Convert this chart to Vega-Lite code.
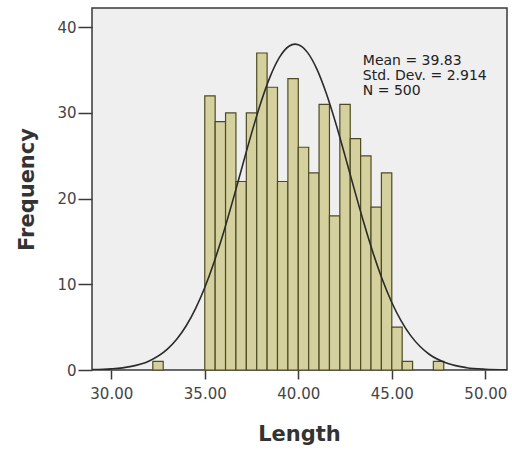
{
  "$schema": "https://vega.github.io/schema/vega-lite/v6.json",
  "width": 415,
  "height": 362,
  "autosize": {"type": "none"},
  "padding": {"left": 92, "top": 8, "right": 5, "bottom": 81},
  "background": "white",
  "config": {
    "view": {"fill": "#efefef", "stroke": "#3a3a3a", "strokeWidth": 1.5},
    "font": "DejaVu Sans",
    "axis": {
      "grid": false,
      "domain": false,
      "labelFont": "DejaVu Sans",
      "labelFontSize": 15,
      "labelColor": "#444444",
      "tickColor": "#3a3a3a",
      "tickWidth": 1.5,
      "titleFont": "DejaVu Sans",
      "titleFontSize": 21,
      "titleFontWeight": "bold",
      "titleColor": "#333333"
    }
  },
  "datasets": {
    "bins": [
      {"start": 32.2222, "end": 32.7778, "count": 1},
      {"start": 35.0, "end": 35.5556, "count": 32},
      {"start": 35.5556, "end": 36.1111, "count": 29},
      {"start": 36.1111, "end": 36.6667, "count": 30},
      {"start": 36.6667, "end": 37.2222, "count": 22},
      {"start": 37.2222, "end": 37.7778, "count": 30},
      {"start": 37.7778, "end": 38.3333, "count": 37},
      {"start": 38.3333, "end": 38.8889, "count": 33},
      {"start": 38.8889, "end": 39.4444, "count": 22},
      {"start": 39.4444, "end": 40.0, "count": 34},
      {"start": 40.0, "end": 40.5556, "count": 26},
      {"start": 40.5556, "end": 41.1111, "count": 23},
      {"start": 41.1111, "end": 41.6667, "count": 31},
      {"start": 41.6667, "end": 42.2222, "count": 18},
      {"start": 42.2222, "end": 42.7778, "count": 31},
      {"start": 42.7778, "end": 43.3333, "count": 27},
      {"start": 43.3333, "end": 43.8889, "count": 25},
      {"start": 43.8889, "end": 44.4444, "count": 19},
      {"start": 44.4444, "end": 45.0, "count": 23},
      {"start": 45.0, "end": 45.5556, "count": 5},
      {"start": 45.5556, "end": 46.1111, "count": 1},
      {"start": 47.2222, "end": 47.7778, "count": 1}
    ],
    "curve": [
      {"x": 28.97, "y": 0.04},
      {"x": 30, "y": 0.13},
      {"x": 31, "y": 0.39},
      {"x": 32, "y": 1.03},
      {"x": 33, "y": 2.44},
      {"x": 33.5, "y": 3.59},
      {"x": 34, "y": 5.14},
      {"x": 34.5, "y": 7.14},
      {"x": 35, "y": 9.63},
      {"x": 35.5, "y": 12.61},
      {"x": 36, "y": 16.03},
      {"x": 36.5, "y": 19.8},
      {"x": 37, "y": 23.73},
      {"x": 37.5, "y": 27.62},
      {"x": 38, "y": 31.22},
      {"x": 38.5, "y": 34.27},
      {"x": 39, "y": 36.52},
      {"x": 39.5, "y": 37.79},
      {"x": 39.83, "y": 38.03},
      {"x": 40, "y": 37.97},
      {"x": 40.5, "y": 37.04},
      {"x": 41, "y": 35.09},
      {"x": 41.5, "y": 32.27},
      {"x": 42, "y": 28.82},
      {"x": 42.5, "y": 24.99},
      {"x": 43, "y": 21.05},
      {"x": 43.5, "y": 17.21},
      {"x": 44, "y": 13.66},
      {"x": 44.5, "y": 10.53},
      {"x": 45, "y": 7.88},
      {"x": 45.5, "y": 5.73},
      {"x": 46, "y": 4.04},
      {"x": 46.5, "y": 2.77},
      {"x": 47, "y": 1.84},
      {"x": 48, "y": 0.75},
      {"x": 49, "y": 0.27},
      {"x": 50, "y": 0.09},
      {"x": 51.16, "y": 0.02}
    ]
  },
  "layer": [
    {
      "data": {"name": "bins"},
      "mark": {"type": "rect", "fill": "#d5d19f", "stroke": "#4e4b24", "strokeWidth": 1.2},
      "encoding": {
        "x": {
          "field": "start", "type": "quantitative",
          "scale": {"domain": [28.97, 51.16], "nice": false, "zero": false},
          "axis": {
            "values": [30, 35, 40, 45, 50],
            "format": ".2f",
            "tickSize": 9,
            "labelPadding": 7,
            "title": "Length",
            "titleX": 207,
            "titleY": 70,
            "titleBaseline": "alphabetic",
            "titleAlign": "center"
          }
        },
        "x2": {"field": "end"},
        "y": {
          "field": "count", "type": "quantitative",
          "scale": {"domain": [0, 42.25], "nice": false},
          "axis": {
            "values": [0, 10, 20, 30, 40],
            "tickSize": 14,
            "labelPadding": 2,
            "title": "Frequency",
            "titleX": -65,
            "titleY": 181,
            "titleAngle": -90,
            "titleBaseline": "middle",
            "titleAlign": "center"
          }
        },
        "y2": {"datum": 0}
      }
    },
    {
      "data": {"name": "curve"},
      "mark": {"type": "line", "color": "#2b2b2b", "strokeWidth": 1.6, "interpolate": "monotone", "clip": true},
      "encoding": {
        "x": {"field": "x", "type": "quantitative"},
        "y": {"field": "y", "type": "quantitative"}
      }
    },
    {
      "data": {"values": [{}]},
      "mark": {
        "type": "text",
        "text": ["Mean = 39.83", "Std. Dev. = 2.914", "N = 500"],
        "align": "left",
        "baseline": "top",
        "font": "DejaVu Sans",
        "fontSize": 14,
        "lineHeight": 15,
        "color": "#222222"
      },
      "encoding": {
        "x": {"datum": 43.45},
        "y": {"datum": 36.9}
      }
    }
  ]
}
